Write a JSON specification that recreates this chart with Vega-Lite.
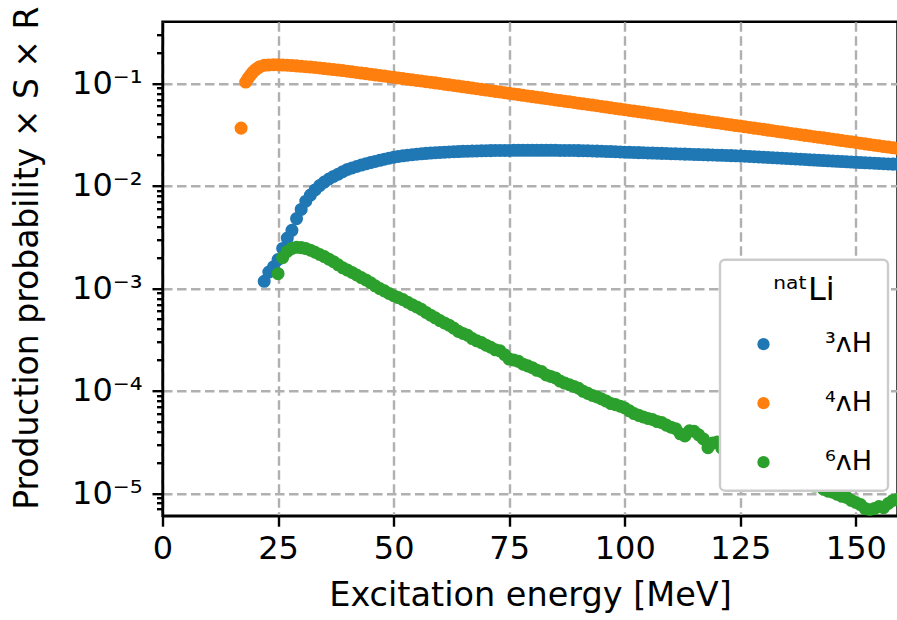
{
  "$schema": "https://vega.github.io/schema/vega-lite/v6.json",
  "width": 735,
  "height": 494,
  "autosize": "none",
  "padding": {"left": 162.5, "top": 21.7, "right": 0, "bottom": 104.3},
  "background": "white",
  "config": {
    "font": "DejaVu Sans",
    "view": {"stroke": "black", "strokeWidth": 2.4},
    "legend": {"strokeWidth": 2.4},
    "axis": {
      "domainColor": "black",
      "domainWidth": 2.4,
      "tickColor": "black",
      "tickWidth": 2.4,
      "tickSize": 10.5,
      "labelColor": "black",
      "labelFont": "DejaVu Sans",
      "labelFontSize": 32,
      "titleFont": "DejaVu Sans",
      "titleFontSize": 33.5,
      "titleFontWeight": "normal",
      "titleColor": "black",
      "grid": true,
      "gridColor": "#b0b0b0",
      "gridWidth": 2.4,
      "gridDash": [9.5, 4.5]
    }
  },
  "datasets": {
    "h3": [
      {"x":22,"y":0.00117},{"x":23,"y":0.00144},{"x":24,"y":0.00162},{"x":25,"y":0.00191},{"x":26,"y":0.00245},
      {"x":27,"y":0.00309},{"x":28,"y":0.00368},{"x":29,"y":0.00479},{"x":30,"y":0.00589},{"x":31,"y":0.00708},
      {"x":32,"y":0.00813},{"x":33,"y":0.00912},{"x":34,"y":0.01005},{"x":35,"y":0.01089},{"x":36,"y":0.01167},
      {"x":37,"y":0.01236},{"x":38,"y":0.01300},{"x":39,"y":0.01374},{"x":40,"y":0.01445},{"x":41,"y":0.01496},
      {"x":42,"y":0.01545},{"x":43,"y":0.01596},{"x":44,"y":0.01641},{"x":45,"y":0.01687},{"x":46,"y":0.01730},
      {"x":47,"y":0.01774},{"x":48,"y":0.01820},{"x":49,"y":0.01862},{"x":50,"y":0.01905},{"x":51,"y":0.01936},
      {"x":52,"y":0.01963},{"x":53,"y":0.01991},{"x":54,"y":0.02014},{"x":55,"y":0.02037},{"x":56,"y":0.02056},
      {"x":57,"y":0.02075},{"x":58,"y":0.02089},{"x":59,"y":0.02104},{"x":60,"y":0.02118},{"x":61,"y":0.02133},
      {"x":62,"y":0.02143},{"x":63,"y":0.02153},{"x":64,"y":0.02163},{"x":65,"y":0.02173},{"x":66,"y":0.02178},
      {"x":67,"y":0.02188},{"x":68,"y":0.02193},{"x":69,"y":0.02198},{"x":70,"y":0.02203},{"x":71,"y":0.02208},
      {"x":72,"y":0.02213},{"x":73,"y":0.02213},{"x":74,"y":0.02218},{"x":75,"y":0.02218},{"x":76,"y":0.02223},
      {"x":77,"y":0.02223},{"x":78,"y":0.02223},{"x":79,"y":0.02223},{"x":80,"y":0.02223},{"x":81,"y":0.02223},
      {"x":82,"y":0.02223},{"x":83,"y":0.02223},{"x":84,"y":0.02223},{"x":85,"y":0.02223},{"x":86,"y":0.02218},
      {"x":87,"y":0.02218},{"x":88,"y":0.02213},{"x":89,"y":0.02213},{"x":90,"y":0.02208},{"x":91,"y":0.02203},
      {"x":92,"y":0.02198},{"x":93,"y":0.02193},{"x":94,"y":0.02183},{"x":95,"y":0.02178},{"x":96,"y":0.02168},
      {"x":97,"y":0.02163},{"x":98,"y":0.02153},{"x":99,"y":0.02143},{"x":100,"y":0.02133},{"x":101,"y":0.02126},
      {"x":102,"y":0.02119},{"x":103,"y":0.02111},{"x":104,"y":0.02104},{"x":105,"y":0.02097},{"x":106,"y":0.02090},
      {"x":107,"y":0.02083},{"x":108,"y":0.02076},{"x":109,"y":0.02069},{"x":110,"y":0.02062},{"x":111,"y":0.02055},
      {"x":112,"y":0.02048},{"x":113,"y":0.02041},{"x":114,"y":0.02034},{"x":115,"y":0.02027},{"x":116,"y":0.02020},
      {"x":117,"y":0.02013},{"x":118,"y":0.02007},{"x":119,"y":0.02000},{"x":120,"y":0.01993},{"x":121,"y":0.01986},
      {"x":122,"y":0.01979},{"x":123,"y":0.01973},{"x":124,"y":0.01966},{"x":125,"y":0.01959},{"x":126,"y":0.01948},
      {"x":127,"y":0.01937},{"x":128,"y":0.01926},{"x":129,"y":0.01915},{"x":130,"y":0.01904},{"x":131,"y":0.01893},
      {"x":132,"y":0.01882},{"x":133,"y":0.01871},{"x":134,"y":0.01860},{"x":135,"y":0.01850},{"x":136,"y":0.01839},
      {"x":137,"y":0.01829},{"x":138,"y":0.01818},{"x":139,"y":0.01808},{"x":140,"y":0.01797},{"x":141,"y":0.01787},
      {"x":142,"y":0.01777},{"x":143,"y":0.01767},{"x":144,"y":0.01757},{"x":145,"y":0.01747},{"x":146,"y":0.01737},
      {"x":147,"y":0.01727},{"x":148,"y":0.01717},{"x":149,"y":0.01707},{"x":150,"y":0.01698},{"x":151,"y":0.01689},
      {"x":152,"y":0.01680},{"x":153,"y":0.01671},{"x":154,"y":0.01663},{"x":155,"y":0.01655},{"x":156,"y":0.01646},
      {"x":157,"y":0.01638},{"x":158,"y":0.01630},{"x":159,"y":0.01622},{"x":160,"y":0.01614}
    ],
    "h4": [
      {"x":17,"y":0.0366},{"x":18,"y":0.103},{"x":18.5,"y":0.112},{"x":19,"y":0.120},{"x":19.5,"y":0.128},
      {"x":20,"y":0.135},{"x":20.5,"y":0.140},{"x":21,"y":0.145},{"x":22,"y":0.150},{"x":23,"y":0.1515},
      {"x":24,"y":0.1521},{"x":25,"y":0.1517},{"x":26,"y":0.1510},{"x":27,"y":0.1503},{"x":28,"y":0.1493},
      {"x":29,"y":0.1483},{"x":30,"y":0.1469},{"x":31,"y":0.1455},{"x":32,"y":0.1442},{"x":33,"y":0.1429},
      {"x":34,"y":0.1413},{"x":35,"y":0.1396},{"x":36,"y":0.1380},{"x":37,"y":0.1365},{"x":38,"y":0.1349},
      {"x":39,"y":0.1334},{"x":40,"y":0.1315},{"x":41,"y":0.1297},{"x":42,"y":0.1279},{"x":43,"y":0.1262},
      {"x":44,"y":0.1245},{"x":45,"y":0.1227},{"x":46,"y":0.1211},{"x":47,"y":0.1194},{"x":48,"y":0.1178},
      {"x":49,"y":0.1161},{"x":50,"y":0.1146},{"x":51,"y":0.1130},{"x":52,"y":0.1115},{"x":53,"y":0.1099},
      {"x":54,"y":0.1084},{"x":55,"y":0.1069},{"x":56,"y":0.1055},{"x":57,"y":0.1040},{"x":58,"y":0.1026},
      {"x":59,"y":0.1012},{"x":60,"y":0.0998},{"x":61,"y":0.0983},{"x":62,"y":0.0969},{"x":63,"y":0.0955},
      {"x":64,"y":0.0941},{"x":65,"y":0.0927},{"x":66,"y":0.0914},{"x":67,"y":0.0900},{"x":68,"y":0.0887},
      {"x":69,"y":0.0874},{"x":70,"y":0.0861},{"x":71,"y":0.0849},{"x":72,"y":0.0836},{"x":73,"y":0.0824},
      {"x":74,"y":0.0812},{"x":75,"y":0.0800},{"x":76,"y":0.0788},{"x":77,"y":0.0777},{"x":78,"y":0.0765},
      {"x":79,"y":0.0754},{"x":80,"y":0.0743},{"x":81,"y":0.0732},{"x":82,"y":0.0722},{"x":83,"y":0.0711},
      {"x":84,"y":0.0701},{"x":85,"y":0.0690},{"x":86,"y":0.0680},{"x":87,"y":0.0670},{"x":88,"y":0.0661},
      {"x":89,"y":0.0651},{"x":90,"y":0.0641},{"x":91,"y":0.0632},{"x":92,"y":0.0623},{"x":93,"y":0.0614},
      {"x":94,"y":0.0605},{"x":95,"y":0.0596},{"x":96,"y":0.0587},{"x":97,"y":0.0578},{"x":98,"y":0.0570},
      {"x":99,"y":0.0562},{"x":100,"y":0.0553},{"x":101,"y":0.0545},{"x":102,"y":0.0537},{"x":103,"y":0.0529},
      {"x":104,"y":0.0522},{"x":105,"y":0.0514},{"x":106,"y":0.0506},{"x":107,"y":0.0499},{"x":108,"y":0.0492},
      {"x":109,"y":0.0484},{"x":110,"y":0.0477},{"x":111,"y":0.0470},{"x":112,"y":0.0464},{"x":113,"y":0.0457},
      {"x":114,"y":0.0450},{"x":115,"y":0.0444},{"x":116,"y":0.0437},{"x":117,"y":0.0431},{"x":118,"y":0.0424},
      {"x":119,"y":0.0418},{"x":120,"y":0.0412},{"x":121,"y":0.0406},{"x":122,"y":0.0400},{"x":123,"y":0.0394},
      {"x":124,"y":0.0388},{"x":125,"y":0.0383},{"x":126,"y":0.0377},{"x":127,"y":0.0372},{"x":128,"y":0.0366},
      {"x":129,"y":0.0361},{"x":130,"y":0.0356},{"x":131,"y":0.0350},{"x":132,"y":0.0345},{"x":133,"y":0.0340},
      {"x":134,"y":0.0335},{"x":135,"y":0.0330},{"x":136,"y":0.0325},{"x":137,"y":0.0321},{"x":138,"y":0.0316},
      {"x":139,"y":0.0311},{"x":140,"y":0.0307},{"x":141,"y":0.0302},{"x":142,"y":0.0298},{"x":143,"y":0.0294},
      {"x":144,"y":0.0289},{"x":145,"y":0.0285},{"x":146,"y":0.0281},{"x":147,"y":0.0277},{"x":148,"y":0.0273},
      {"x":149,"y":0.0269},{"x":150,"y":0.0265},{"x":151,"y":0.0261},{"x":152,"y":0.0257},{"x":153,"y":0.0253},
      {"x":154,"y":0.0249},{"x":155,"y":0.0246},{"x":156,"y":0.0242},{"x":157,"y":0.0239},{"x":158,"y":0.0235},
      {"x":159,"y":0.0232},{"x":160,"y":0.0229}
    ],
    "h6": [
      {"x":25,"y":0.001390},{"x":26,"y":0.001995},{"x":27,"y":0.002291},{"x":28,"y":0.002455},{"x":29,"y":0.002512},
      {"x":30,"y":0.002495},{"x":31,"y":0.002443},{"x":32,"y":0.002355},{"x":33,"y":0.002249},{"x":34,"y":0.002138},
      {"x":35,"y":0.002042},{"x":36,"y":0.001923},{"x":37,"y":0.001820},{"x":38,"y":0.001698},{"x":39,"y":0.001585},
      {"x":40,"y":0.001507},{"x":41,"y":0.001429},{"x":42,"y":0.001349},{"x":43,"y":0.001274},{"x":44,"y":0.001208},
      {"x":45,"y":0.001135},{"x":46,"y":0.001059},{"x":47,"y":0.0009954},{"x":48,"y":0.0009441},{"x":49,"y":0.0008913},
      {"x":50,"y":0.0008472},{"x":51,"y":0.0008128},{"x":52,"y":0.0007762},{"x":53,"y":0.0007328},{"x":54,"y":0.0006918},
      {"x":55,"y":0.0006577},{"x":56,"y":0.0006238},{"x":57,"y":0.0005821},{"x":58,"y":0.0005471},{"x":59,"y":0.0005152},
      {"x":60,"y":0.0004842},{"x":61,"y":0.0004592},{"x":62,"y":0.0004365},{"x":63,"y":0.0004093},{"x":64,"y":0.0003802},
      {"x":65,"y":0.0003631},{"x":66,"y":0.0003483},{"x":67,"y":0.0003236},{"x":68,"y":0.0003076},{"x":69,"y":0.0002951},
      {"x":70,"y":0.0002786},{"x":71,"y":0.0002661},{"x":72,"y":0.0002512},{"x":73,"y":0.0002455},{"x":74,"y":0.0002249},
      {"x":75,"y":0.0002042},{"x":76,"y":0.0001995},{"x":77,"y":0.0001941},{"x":78,"y":0.0001820},{"x":79,"y":0.0001750},
      {"x":80,"y":0.0001679},{"x":81,"y":0.0001585},{"x":82,"y":0.0001542},{"x":83,"y":0.0001429},{"x":84,"y":0.0001380},
      {"x":85,"y":0.0001334},{"x":86,"y":0.0001245},{"x":87,"y":0.0001189},{"x":88,"y":0.0001148},{"x":89,"y":0.0001102},
      {"x":90,"y":0.0001059},{"x":91,"y":0.00009886},{"x":92,"y":0.00009441},{"x":93,"y":0.00009016},{"x":94,"y":0.00008710},
      {"x":95,"y":0.00008318},{"x":96,"y":0.00007943},{"x":97,"y":0.00007499},{"x":98,"y":0.00007328},{"x":99,"y":0.00007079},
      {"x":100,"y":0.00006792},{"x":101,"y":0.00006383},{"x":102,"y":0.00005998},{"x":103,"y":0.00005754},{"x":104,"y":0.00005559},
      {"x":105,"y":0.00005370},{"x":106,"y":0.00005248},{"x":107,"y":0.00005012},{"x":108,"y":0.00004898},{"x":109,"y":0.00004624},
      {"x":110,"y":0.00004416},{"x":111,"y":0.00004266},{"x":112,"y":0.00003802},{"x":113,"y":0.00003631},{"x":114,"y":0.00004074},
      {"x":115,"y":0.00004027},{"x":116,"y":0.00003715},{"x":117,"y":0.00003388},{"x":118,"y":0.00002786},{"x":119,"y":0.00003090},
      {"x":120,"y":0.00003162},{"x":121,"y":0.00002754},{"x":122,"y":0.00002570},{"x":123,"y":0.00002512},{"x":124,"y":0.00002399},
      {"x":125,"y":0.00002291},{"x":126,"y":0.00002239},{"x":127,"y":0.00002138},{"x":128,"y":0.00001995},{"x":129,"y":0.00001972},
      {"x":130,"y":0.00001862},{"x":131,"y":0.00001738},{"x":132,"y":0.00001778},{"x":133,"y":0.00001622},{"x":134,"y":0.00001585},
      {"x":135,"y":0.00001514},{"x":136,"y":0.00001413},{"x":137,"y":0.00001445},{"x":138,"y":0.00001318},{"x":139,"y":0.00001303},
      {"x":140,"y":0.00001230},{"x":141,"y":0.00001175},{"x":142,"y":0.00001202},{"x":143,"y":0.00001096},{"x":144,"y":0.00001047},
      {"x":145,"y":0.00001023},{"x":146,"y":0.000009772},{"x":147,"y":0.000009333},{"x":148,"y":0.000009120},{"x":149,"y":0.000008511},
      {"x":150,"y":0.000008128},{"x":151,"y":0.000007762},{"x":152,"y":0.000007079},{"x":153,"y":0.000006918},{"x":154,"y":0.000007079},
      {"x":155,"y":0.000007413},{"x":156,"y":0.000007244},{"x":157,"y":0.000007943},{"x":158,"y":0.000008511},{"x":159,"y":0.000008710}
    ]
  },
  "encoding": {
    "x": {
      "field": "x", "type": "quantitative",
      "scale": {"domain": [0, 159], "nice": false, "zero": false},
      "axis": {"values": [0, 25, 50, 75, 100, 125, 150], "title": "Excitation energy [MeV]", "labelPadding": 7, "titlePadding": 15, "labelFlush": false}
    },
    "y": {
      "field": "y", "type": "quantitative",
      "scale": {"type": "log", "domain": [0.00000604, 0.40], "nice": false},
      "axis": {
        "title": "Production probability  × S × R",
        "titleY": 236,
        "titleFontSize": 33,
        "values": [7e-6, 8e-6, 9e-6, 1e-5, 2e-5, 3e-5, 4e-5, 5e-5, 6e-5, 7e-5, 8e-5, 9e-5, 1e-4, 2e-4, 3e-4, 4e-4, 5e-4, 6e-4, 7e-4, 8e-4, 9e-4, 1e-3, 2e-3, 3e-3, 4e-3, 5e-3, 6e-3, 7e-3, 8e-3, 9e-3, 0.01, 0.02, 0.03, 0.04, 0.05, 0.06, 0.07, 0.08, 0.09, 0.1, 0.2, 0.3],
        "labelExpr": "abs(log(datum.value)/LN10 - round(log(datum.value)/LN10)) < 0.001 ? '10⁻' + ['⁰','¹','²','³','⁴','⁵','⁶','⁷'][-round(log(datum.value)/LN10)] : ''",
        "tickSize": {"condition": {"test": "abs(log(datum.value)/LN10 - round(log(datum.value)/LN10)) < 0.001", "value": 10.5}, "value": 6},
        "gridOpacity": {"condition": {"test": "abs(log(datum.value)/LN10 - round(log(datum.value)/LN10)) < 0.001", "value": 1}, "value": 0},
        "labelPadding": 10,
        "titlePadding": 27,
        "labelFlush": false,
        "labelOverlap": false
      }
    }
  },
  "layer": [
    {
      "data": {"name": "h3"},
      "mark": {"type": "point", "filled": true, "size": 170, "opacity": 1, "clip": true, "shape": "circle"},
      "encoding": {
        "color": {
          "datum": "³ᴧH",
          "scale": {"domain": ["³ᴧH", "⁴ᴧH", "⁶ᴧH"], "range": ["#1f77b4", "#ff7f0e", "#2ca02c"]},
          "legend": {
            "title": "ⁿᵃᵗLi",
            "orient": "none",
            "legendX": 557.5,
            "legendY": 238,
            "fillColor": "white",
            "strokeColor": "#cccccc",
            "cornerRadius": 5,
            "padding": 15,
            "titleFontSize": 32,
            "titleFontWeight": "normal",
            "titleColor": "black",
            "titleFont": "DejaVu Sans",
            "titleAnchor": "middle",
            "titlePadding": 24,
            "labelFontSize": 27,
            "labelFont": "DejaVu Sans",
            "labelColor": "black",
            "labelOffset": 48,
            "symbolOffset": 15,
            "symbolSize": 150,
            "symbolType": "circle",
            "symbolStrokeWidth": 0,
            "rowPadding": 31
          }
        }
      }
    },
    {
      "data": {"name": "h4"},
      "mark": {"type": "point", "filled": true, "size": 170, "opacity": 1, "clip": true, "shape": "circle"},
      "encoding": {"color": {"datum": "⁴ᴧH"}}
    },
    {
      "data": {"name": "h6"},
      "mark": {"type": "point", "filled": true, "size": 170, "opacity": 1, "clip": true, "shape": "circle"},
      "encoding": {"color": {"datum": "⁶ᴧH"}}
    }
  ]
}
